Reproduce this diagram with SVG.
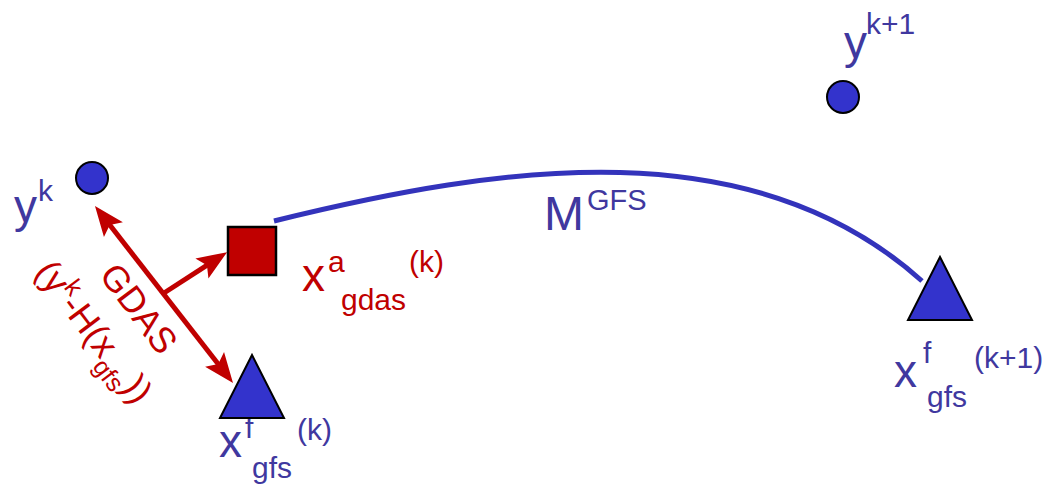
<svg xmlns="http://www.w3.org/2000/svg" width="1054" height="490" viewBox="0 0 1054 490">
<style>
.bt{font-family:"Liberation Sans",Arial,sans-serif;fill:#40389f}
.rt{font-family:"Liberation Sans",Arial,sans-serif;fill:#c00000}
.big{font-size:46px}
.sm{font-size:30px}
.node{fill:#3333cc;stroke:#000;stroke-width:2}
.sq{fill:#c00000;stroke:#000;stroke-width:2.5}
.arr{stroke:#c00000;stroke-width:5;fill:none}
</style>
<defs>
<marker id="ah" markerUnits="userSpaceOnUse" orient="auto-start-reverse" refX="0" refY="0" overflow="visible" markerWidth="40" markerHeight="40">
<path d="M15,0 L-15,-12 L-9,0 L-15,12 Z" fill="#c00000"/>
</marker>
</defs>
<g id="connectors">
<path d="M274,221 C503,164.5 752,128 922,281" fill="none" stroke="#3333bb" stroke-width="5"/>
<line class="arr" x1="104.2" y1="217.8" x2="223.8" y2="371.2" marker-start="url(#ah)" marker-end="url(#ah)"/>
<line class="arr" x1="164" y1="293" x2="214.5" y2="260.3" marker-end="url(#ah)"/>
<text class="rt" font-size="36" text-anchor="middle" transform="translate(129,316) rotate(53)">GDAS</text>
<text class="rt" font-size="36" transform="translate(34,272) rotate(53)">(y<tspan font-size="25" dy="-14">k</tspan><tspan dy="14">-H(x</tspan><tspan font-size="25" dy="11">gfs</tspan><tspan dy="-11">))</tspan></text>
<text class="bt" font-size="48" x="544" y="230">M</text>
<text class="bt" font-size="29" x="587" y="210">GFS</text>
</g>
<g id="yk">
<circle class="node" cx="92" cy="178" r="16"/>
<text class="bt big" x="14" y="222">y</text>
<text class="bt sm" x="38" y="201">k</text>
</g>
<g id="yk1">
<circle class="node" cx="843" cy="97" r="16"/>
<text class="bt big" x="844" y="58">y</text>
<text class="bt sm" x="866" y="34">k+1</text>
</g>
<g id="xa">
<rect class="sq" x="228" y="227" width="48" height="48"/>
<text class="rt big" x="302" y="291">x</text>
<text class="rt sm" x="328" y="272">a</text>
<text class="rt sm" x="341" y="310">gdas</text>
<text class="rt sm" x="409" y="272">(k)</text>
</g>
<g id="xfk">
<text class="bt big" x="219" y="457">x</text>
<text class="bt sm" x="245" y="438">f</text>
<text class="bt sm" x="252" y="478">gfs</text>
<text class="bt sm" x="297" y="440">(k)</text>
<polygon class="node" points="252,355 284,418 220,418"/>
</g>
<g id="xfk1">
<text class="bt big" x="894" y="387">x</text>
<text class="bt sm" x="923" y="363">f</text>
<text class="bt sm" x="927" y="407">gfs</text>
<text class="bt sm" x="974" y="368">(k+1)</text>
<polygon class="node" points="940,257 972,320 908,320"/>
</g>
</svg>
